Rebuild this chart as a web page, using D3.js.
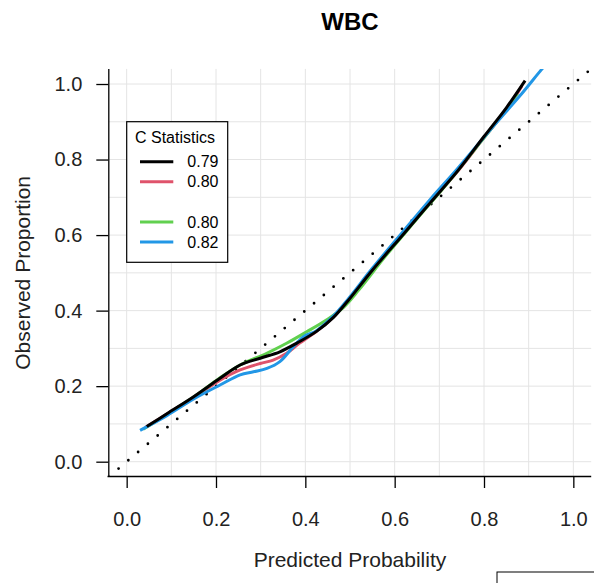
<!DOCTYPE html>
<html>
<head>
<meta charset="utf-8">
<script src="https://cdn.jsdelivr.net/npm/d3@7"></script>
<style>
  html, body { margin: 0; padding: 0; background: #fff; }
  svg { display: block; font-family: "Liberation Sans", Arial, Helvetica, sans-serif; }
</style>
</head>
<body>
<svg id="chart" width="594" height="583"></svg>
<script>
// Calibration curves: predicted probability vs observed proportion
const chartTitle = "WBC";
const xTitle = "Predicted Probability";
const yTitle = "Observed Proportion";
const tickValues = [0, 0.2, 0.4, 0.6, 0.8, 1.0];
const gridValues = [0, 0.1, 0.2, 0.3, 0.4, 0.5, 0.6, 0.7, 0.8, 0.9, 1.0];

const legendTitle = "C Statistics";
const legendLabels = ["0.79", "0.80", null, "0.80", "0.82"];
const legendColors = ["#000000", "#DF536B", null, "#61D04F", "#2297E6"];

const curveBlack = [
  [0.045, 0.093], [0.09, 0.127], [0.15, 0.172], [0.209, 0.221], [0.254, 0.256],
  [0.299, 0.274], [0.343, 0.291], [0.381, 0.314], [0.425, 0.345], [0.463, 0.382],
  [0.496, 0.427], [0.55, 0.507], [0.62, 0.603], [0.68, 0.686], [0.7425, 0.772],
  [0.80, 0.861], [0.85, 0.937], [0.892, 1.009]
];
const curveRed = [
  [0.042, 0.091], [0.09, 0.126], [0.15, 0.170], [0.209, 0.216], [0.254, 0.243],
  [0.299, 0.260], [0.328, 0.269], [0.358, 0.287], [0.385, 0.312], [0.425, 0.345],
  [0.463, 0.383], [0.496, 0.428], [0.55, 0.508], [0.62, 0.604], [0.68, 0.687],
  [0.7425, 0.771], [0.80, 0.858], [0.85, 0.932], [0.885, 0.995]
];
const curveGreen = [
  [0.037, 0.086], [0.09, 0.125], [0.15, 0.171], [0.209, 0.222], [0.254, 0.256],
  [0.3135, 0.287], [0.358, 0.3135], [0.403, 0.344], [0.448, 0.376], [0.485, 0.408],
  [0.52, 0.455], [0.58, 0.545], [0.65, 0.643], [0.72, 0.740], [0.78, 0.828],
  [0.84, 0.918], [0.875, 0.975]
];
const curveBlue = [
  [0.03, 0.083], [0.09, 0.122], [0.15, 0.166], [0.209, 0.203], [0.254, 0.230],
  [0.284, 0.238], [0.314, 0.247], [0.343, 0.265], [0.373, 0.3045], [0.396, 0.331],
  [0.425, 0.347], [0.463, 0.386], [0.496, 0.431], [0.55, 0.512], [0.62, 0.611],
  [0.68, 0.695], [0.74, 0.775], [0.82, 0.887], [0.88, 0.968], [0.93, 1.04], [0.95, 1.067]
];

const svg = d3.select("#chart");
const x = d3.scaleLinear().domain([-0.04, 1.04]).range([108.8, 591.2]);
const y = d3.scaleLinear().domain([-0.04, 1.04]).range([476.8, 68.9]);
const [xl, xr] = x.range();
const [yb, yt] = y.range();

svg.append("defs").append("clipPath").attr("id", "plotClip")
  .append("rect").attr("x", xl).attr("y", yt).attr("width", xr - xl).attr("height", yb - yt);

// grid
const grid = svg.append("g").attr("stroke", "#e4e4e4").attr("stroke-width", 1);
grid.selectAll("line.v").data(gridValues).join("line").attr("class", "v")
  .attr("x1", d => x(d)).attr("x2", d => x(d)).attr("y1", yt).attr("y2", yb);
grid.selectAll("line.h").data(gridValues).join("line").attr("class", "h")
  .attr("y1", d => y(d)).attr("y2", d => y(d)).attr("x1", xl).attr("x2", xr);

const plot = svg.append("g").attr("clip-path", "url(#plotClip)");

// reference diagonal
plot.append("line")
  .attr("x1", x(-0.04)).attr("y1", y(-0.04)).attr("x2", x(1.04)).attr("y2", y(1.04))
  .attr("stroke", "#000").attr("stroke-width", 2.8)
  .attr("stroke-linecap", "round").attr("stroke-dasharray", "0 12.8");

const line = d3.line().x(d => x(d[0])).y(d => y(d[1])).curve(d3.curveCatmullRom.alpha(0.5));
const series = [
  { data: curveRed, color: legendColors[1] },
  { data: curveGreen, color: legendColors[3] },
  { data: curveBlue, color: legendColors[4] },
  { data: curveBlack, color: legendColors[0] }
];
series.forEach(s => {
  plot.append("path").attr("d", line(s.data)).attr("fill", "none")
    .attr("stroke", s.color).attr("stroke-width", 3).attr("stroke-linejoin", "round");
});

// axes
const xAxis = svg.append("g").attr("transform", `translate(0,${yb - 0.8})`)
  .call(d3.axisBottom(x).tickValues(tickValues).tickFormat(d3.format(".1f")).tickSize(12).tickPadding(24));
xAxis.select(".domain").attr("d", `M${xl - 1.3},0.5H${xr}`).attr("stroke-width", 1.3);
xAxis.selectAll(".tick line").attr("stroke-width", 1.3);
xAxis.selectAll(".tick text").attr("font-size", 20).attr("font-family", null).attr("fill", "#222");

const yAxis = svg.append("g").attr("transform", `translate(${xl - 0.5},0)`)
  .call(d3.axisLeft(y).tickValues(tickValues).tickFormat(d3.format(".1f")).tickSize(12).tickPadding(14));
yAxis.select(".domain").attr("d", `M0.5,${yt}V${yb}`).attr("stroke-width", 1.3);
yAxis.selectAll(".tick line").attr("stroke-width", 1.3);
yAxis.selectAll(".tick text").attr("font-size", 20).attr("font-family", null).attr("fill", "#222");

// titles
svg.append("text").attr("x", (xl + xr) / 2).attr("y", 30).attr("text-anchor", "middle")
  .attr("font-size", 24).attr("font-weight", "bold").text(chartTitle);
svg.append("text").attr("x", (xl + xr) / 2).attr("y", 567).attr("text-anchor", "middle")
  .attr("font-size", 21).attr("fill", "#222").text(xTitle);
svg.append("text").attr("transform", `translate(29.5,${(yt + yb) / 2}) rotate(-90)`)
  .attr("text-anchor", "middle").attr("font-size", 21).attr("fill", "#222").text(yTitle);

// legend
const lg = svg.append("g");
lg.append("rect").attr("x", 126.7).attr("y", 121.7).attr("width", 101).attr("height", 140.6)
  .attr("fill", "#fff").attr("stroke", "#000").attr("stroke-width", 1.2);
lg.append("text").attr("x", 135).attr("y", 142.5).attr("font-size", 16).text(legendTitle);
legendLabels.forEach((lab, i) => {
  if (lab === null) return;
  const yy = 161.7 + i * 20.1;
  lg.append("line").attr("x1", 140).attr("x2", 173.3).attr("y1", yy).attr("y2", yy)
    .attr("stroke", legendColors[i]).attr("stroke-width", 3);
  lg.append("text").attr("x", 187.3).attr("y", yy).attr("dy", "0.35em")
    .attr("font-size", 16).text(lab);
});

// frame at the lower right
svg.append("rect").attr("x", 497).attr("y", 572).attr("width", 120).attr("height", 40)
  .attr("fill", "none").attr("stroke", "#000").attr("stroke-width", 1);
</script>
</body>
</html>
